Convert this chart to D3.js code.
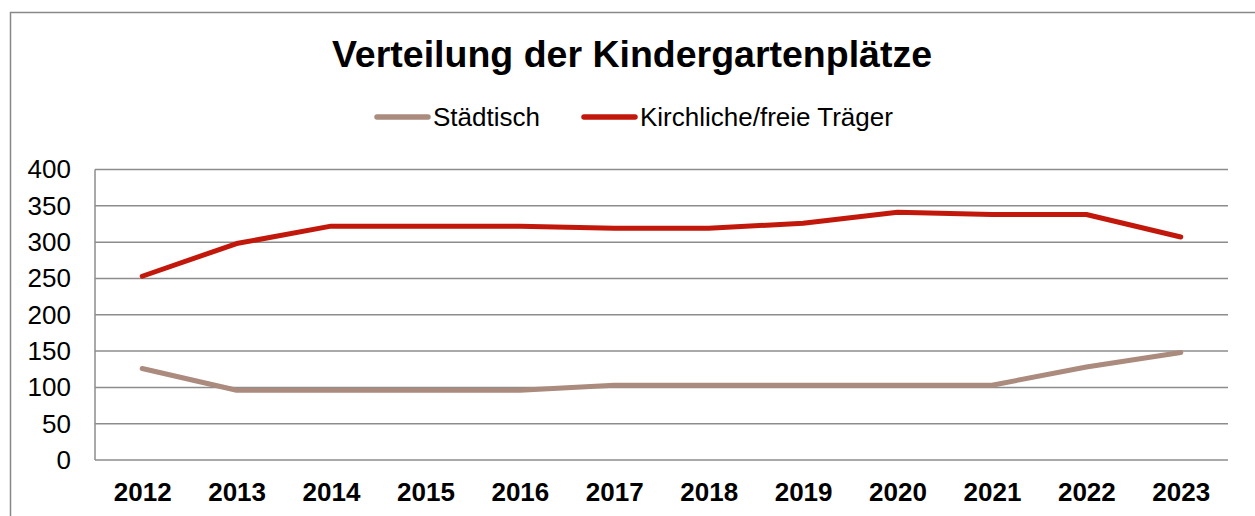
<!DOCTYPE html>
<html><head><meta charset="utf-8">
<script src="https://cdn.jsdelivr.net/npm/d3@7"></script>
<style>body{margin:0;background:#fff;}svg{display:block;font-family:"Liberation Sans",Arial,sans-serif;}</style>
</head><body>
<script>
const years = ["2012","2013","2014","2015","2016","2017","2018","2019","2020","2021","2022","2023"];
const staedtisch = [126,96,96,96,96,103,103,103,103,103,128,148];
const kirchlich = [253,298,322,322,322,319,319,326,341,338,338,307];
const yTicks = [0,50,100,150,200,250,300,350,400];
const seriesNames = ["Städtisch","Kirchliche/freie Träger"];
const colors = ["#ab8b7d","#c2180b"];

(function(){
const W=1255,H=516;
const svg=d3.select("body").append("svg").attr("width",W).attr("height",H);
svg.append("rect").attr("x",10.5).attr("y",12.5).attr("width",1260).attr("height",520)
  .attr("fill","#fff").attr("stroke","#888").attr("stroke-width",1.5);

const pL=95,pR=1228,pT=169.5,pB=460;
const x=d3.scalePoint().domain(years).range([pL,pR]).padding(0.5);
const y=d3.scaleLinear().domain([0,400]).range([pB,pT]);

svg.append("g").selectAll("line").data(yTicks).join("line")
  .attr("x1",pL).attr("x2",pR).attr("y1",d=>y(d)).attr("y2",d=>y(d))
  .attr("stroke","#8c8c8c").attr("stroke-width",1.5);
svg.append("line").attr("x1",pL).attr("x2",pL).attr("y1",pT).attr("y2",pB)
  .attr("stroke","#8c8c8c").attr("stroke-width",1.5);

const ya=svg.append("g").attr("transform",`translate(${pL},0)`)
  .call(d3.axisLeft(y).tickValues(yTicks).tickSize(0).tickPadding(24));
ya.select(".domain").remove();
ya.selectAll("text").attr("font-size",26).attr("fill","#000").attr("font-family","Liberation Sans, Arial, sans-serif");

const xa=svg.append("g").attr("transform",`translate(0,${pB})`)
  .call(d3.axisBottom(x).tickSize(0).tickPadding(23));
xa.select(".domain").remove();
xa.selectAll("text").attr("font-size",26).attr("font-weight","bold").attr("fill","#000").attr("font-family","Liberation Sans, Arial, sans-serif");

const line=d3.line().x((d,i)=>x(years[i])).y(d=>y(d));
[staedtisch,kirchlich].forEach((s,k)=>{
  svg.append("path").datum(s).attr("d",line).attr("fill","none")
    .attr("stroke",colors[k]).attr("stroke-width",5).attr("stroke-linecap","round").attr("stroke-linejoin","round");
});

svg.append("text").attr("x",632).attr("y",67).attr("text-anchor","middle")
  .attr("font-size",37.5).attr("font-weight","bold").text("Verteilung der Kindergartenplätze");

const lx=[375,582];
seriesNames.forEach((n,k)=>{
  svg.append("line").attr("x1",lx[k]+2).attr("x2",lx[k]+53).attr("y1",117).attr("y2",117)
    .attr("stroke",colors[k]).attr("stroke-width",5.5).attr("stroke-linecap","round");
  svg.append("text").attr("x",lx[k]+58).attr("y",126).attr("font-size",26).text(n);
});
})();
</script>
</body></html>
